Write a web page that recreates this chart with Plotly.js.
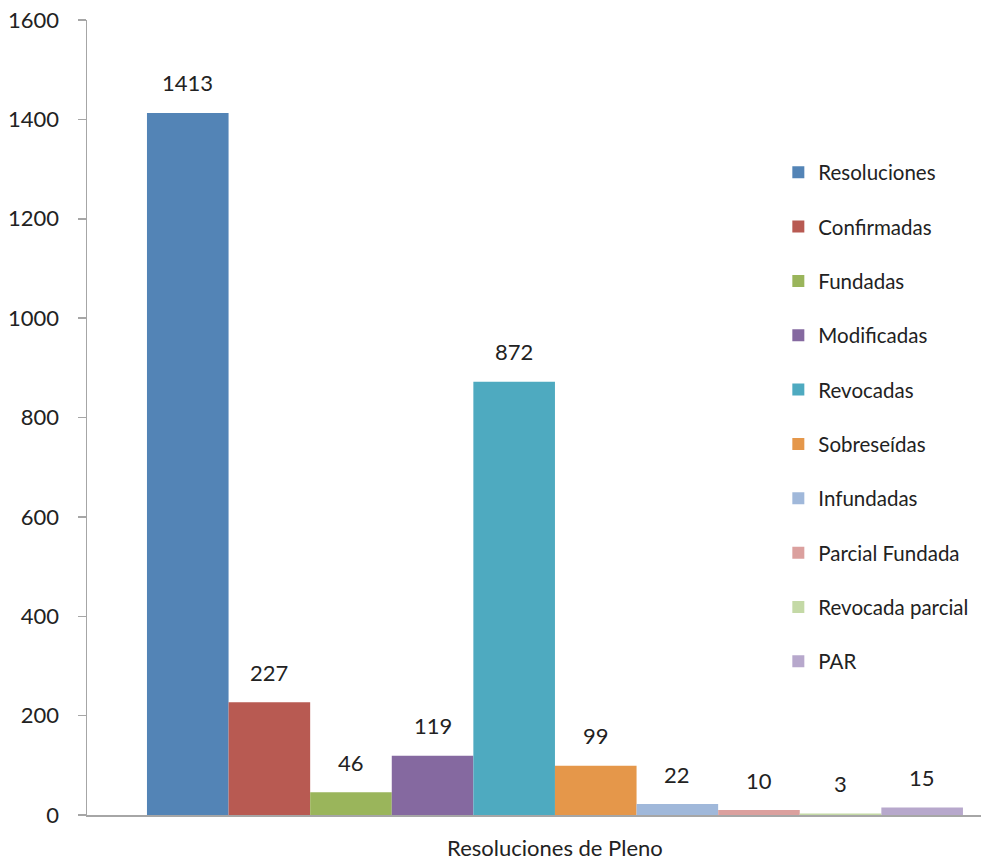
<!DOCTYPE html>
<html>
<head>
<meta charset="utf-8">
<script src="https://cdn.plot.ly/plotly-3.0.1.min.js"></script>
<style>html,body{margin:0;padding:0;background:#fff;}#chart{width:981px;height:861px;}</style>
</head>
<body>
<div id="chart"></div>
<script>
const category = "Resoluciones de Pleno";
const seriesNames = ["Resoluciones","Confirmadas","Fundadas","Modificadas","Revocadas","Sobreseídas","Infundadas","Parcial Fundada","Revocada parcial","PAR"];
const seriesValues = [1413, 227, 46, 119, 872, 99, 22, 10, 3, 15];
const seriesColors = ["#5384B6","#B85A52","#9AB55B","#8569A0","#4EAAC0","#E5974A","#A0B8DA","#DBA09E","#C4D9A6","#B7A8CC"];
const yTicks = [0,200,400,600,800,1000,1200,1400,1600];

const FONT = "Lato, 'Open Sans', sans-serif";
const bargap = 0.2;
const n = seriesNames.length;
const w = (1 - bargap) / n;

const traces = seriesNames.map((name, i) => ({
  type: "bar",
  name: name,
  x: [category],
  y: [seriesValues[i]],
  marker: {color: seriesColors[i], line: {width: 0}},
  legendgroup: "g" + i,
  hoverinfo: "name+y"
}));

const annotations = seriesValues.map((v, i) => ({
  xref: "x", yref: "y",
  x: -(1 - bargap) / 2 + w * (i + 0.5),
  y: v,
  text: String(v),
  showarrow: false,
  yanchor: "middle",
  yshift: 30,
  font: {family: FONT, size: 22, color: "#222"}
}));

const layout = {
  width: 981, height: 861,
  margin: {l: 87, r: 0, t: 20, b: 46},
  paper_bgcolor: "#fff", plot_bgcolor: "#fff",
  barmode: "group",
  bargap: bargap,
  bargroupgap: 0,
  font: {family: FONT, size: 22, color: "#222"},
  xaxis: {
    type: "category",
    range: [-0.4588, 0.4177],
    showline: true, linecolor: "#a6a6a6", linewidth: 1.5,
    ticks: "", showgrid: false, zeroline: false,
    ticklabelstandoff: 13,
    tickfont: {family: FONT, size: 22, color: "#222"}
  },
  yaxis: {
    range: [0, 1600],
    tickvals: yTicks,
    ticktext: yTicks.map(String),
    showline: true, linecolor: "#a6a6a6", linewidth: 1.5,
    ticks: "outside", ticklen: 8, tickcolor: "#a6a6a6", tickwidth: 1.5,
    showgrid: false, zeroline: false,
    ticklabelstandoff: 14,
    tickfont: {family: FONT, size: 22, color: "#222"}
  },
  legend: {
    x: 0.7733, xanchor: "left",
    y: 0.8335, yanchor: "top",
    bgcolor: "rgba(0,0,0,0)",
    tracegroupgap: 24.7,
    font: {family: FONT, size: 20.5, color: "#222"}
  },
  annotations: annotations,
  showlegend: true
};

Plotly.newPlot("chart", traces, layout, {displayModeBar: false, staticPlot: true});
</script>
</body>
</html>
